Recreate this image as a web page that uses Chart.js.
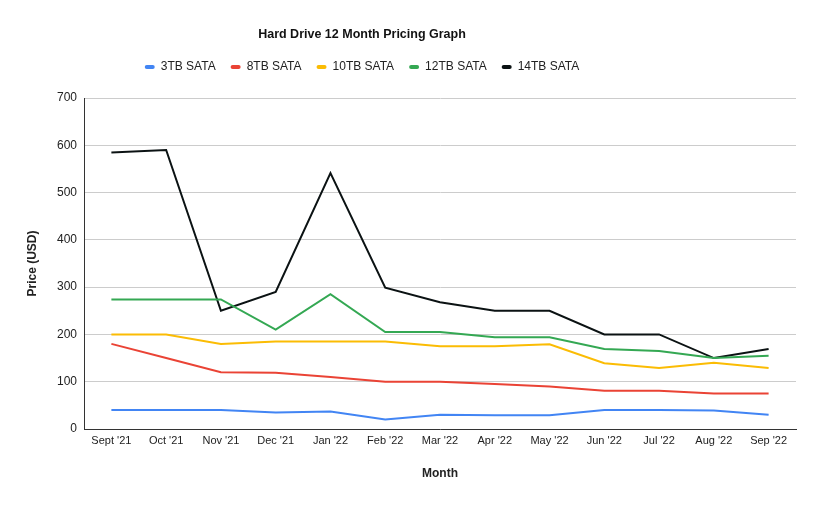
<!DOCTYPE html>
<html>
<head>
<meta charset="utf-8">
<script src="https://cdn.jsdelivr.net/npm/chart.js@4"></script>
<style>
  html, body { margin: 0; padding: 0; background: #fff; }
  #wrap { width: 821px; height: 507px; }
</style>
</head>
<body>
<div id="wrap"><canvas id="priceChart" width="821" height="507"></canvas></div>
<script>
    // data
    const months = ["Sept '21", "Oct '21", "Nov '21", "Dec '21", "Jan '22", "Feb '22", "Mar '22",
                    "Apr '22", "May '22", "Jun '22", "Jul '22", "Aug '22", "Sep '22"];
    const sata3tb  = [40, 40, 40, 35, 37, 20, 30, 29, 29, 40, 40, 39, 30];
    const sata8tb  = [180, 150, 120, 119, 110, 100, 100, 95, 90, 81, 81, 75, 75];
    const sata10tb = [200, 200, 180, 185, 185, 185, 175, 175, 179, 139, 129, 140, 129];
    const sata12tb = [274, 274, 274, 210, 285, 205, 205, 194, 194, 169, 165, 150, 155];
    const sata14tb = [585, 590, 250, 290, 541, 299, 268, 250, 250, 200, 200, 150, 169];
    const yTicks = [0, 100, 200, 300, 400, 500, 600, 700];

    const font = 'Liberation Sans, Arial, sans-serif';

    // title + legend in the reference are centred a bit left of the canvas
    const headerShift = {
        id: 'headerShift',
        afterLayout(chart) {
            [chart.titleBlock, chart.legend].forEach(box => {
                if (box) { box.left = 0; box.right = 724; }
            });
        }
    };

    function line(label, data, color) {
        return {
            label: label,
            data: data,
            borderColor: color,
            backgroundColor: color,
            borderWidth: 2,
            pointRadius: 0,
            tension: 0,
            fill: false
        };
    }

    const ctx = document.getElementById('priceChart');
    if (ctx) {
        new Chart(ctx.getContext('2d'), {
            type: 'line',
            data: {
                labels: months,
                datasets: [
                    line('3TB SATA', sata3tb, '#4285f4'),
                    line('8TB SATA', sata8tb, '#ea4335'),
                    line('10TB SATA', sata10tb, '#fbbc04'),
                    line('12TB SATA', sata12tb, '#34a853'),
                    line('14TB SATA', sata14tb, '#0b1213')
                ]
            },
            plugins: [headerShift],
            options: {
                responsive: false,
                animation: false,
                layout: { padding: { top: 0, left: 21, right: 25, bottom: 22 } },
                scales: {
                    x: {
                        offset: true,
                        grid: { display: false, drawTicks: false },
                        border: { display: true, color: '#333', width: 1 },
                        ticks: { color: '#222', font: { family: font, size: 11 }, padding: 5, maxRotation: 0, autoSkip: false },
                        title: { display: true, text: 'Month', color: '#222', font: { family: font, size: 12, weight: 'bold' }, padding: { top: 4, bottom: 4 } },
                        afterFit: function(scale) { scale.height = 56; }
                    },
                    y: {
                        min: 0,
                        max: 700,
                        afterBuildTicks: function(scale) { scale.ticks = yTicks.map(v => ({ value: v })); },
                        grid: { color: '#cccccc', drawTicks: false },
                        border: { display: true, color: '#333', width: 1 },
                        ticks: { color: '#222', font: { family: font, size: 12 }, padding: 7 },
                        title: { display: true, text: 'Price (USD)', color: '#222', font: { family: font, size: 12, weight: 'bold' }, padding: { top: 4, bottom: 4 } },
                        afterFit: function(scale) { scale.width = 63; }
                    }
                },
                plugins: {
                    title: {
                        display: true,
                        text: 'Hard Drive 12 Month Pricing Graph',
                        color: '#111',
                        font: { family: font, size: 12.5, weight: 'bold', lineHeight: 1.2 },
                        padding: { top: 27.5, bottom: 3.5 }
                    },
                    subtitle: {
                        display: true,
                        text: '',
                        weight: 500,
                        font: { size: 10, lineHeight: 1 },
                        padding: { top: 0, bottom: 5 }
                    },
                    legend: {
                        display: true,
                        position: 'top',
                        labels: {
                            color: '#222',
                            font: { family: font, size: 12 },
                            boxWidth: 10,
                            boxHeight: 4,
                            useBorderRadius: true,
                            borderRadius: 2,
                            padding: 15,
                            generateLabels: function(chart) {
                                return Chart.defaults.plugins.legend.labels.generateLabels(chart)
                                    .map(item => Object.assign(item, { lineWidth: 0 }));
                            }
                        }
                    },
                    tooltip: { enabled: false }
                }
            }
        });
    }
</script>
</body>
</html>
